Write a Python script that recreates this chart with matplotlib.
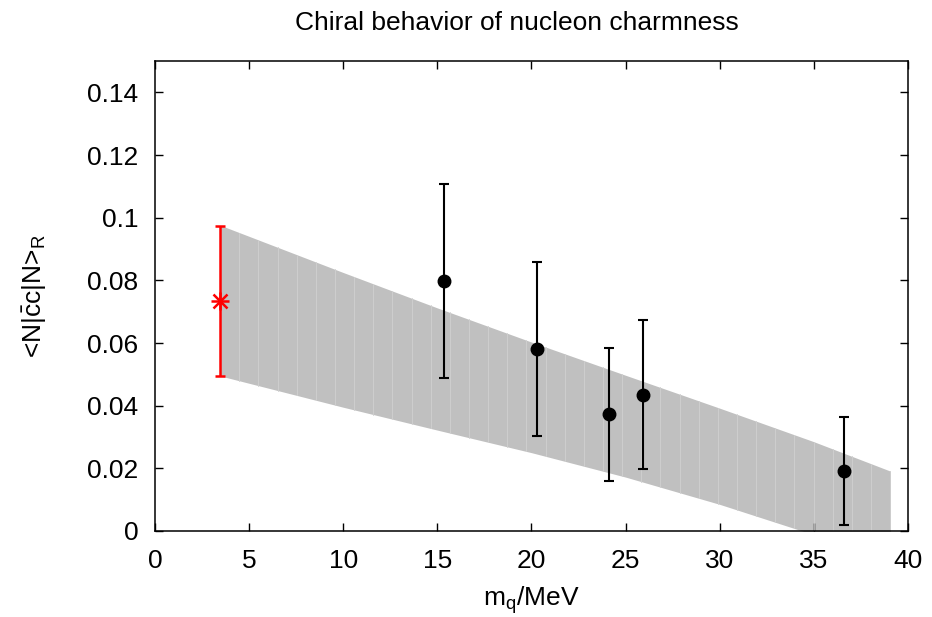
import numpy as np
import matplotlib
matplotlib.use("Agg")
import matplotlib.pyplot as plt

plt.rcParams['font.family'] = ['Liberation Sans', 'DejaVu Sans']
plt.rcParams['mathtext.fontset'] = 'custom'
plt.rcParams['mathtext.rm'] = 'Liberation Sans'
plt.rcParams['mathtext.it'] = 'Liberation Sans:italic'

# lattice points
mq = [15.34, 20.3, 24.1, 25.9, 36.6]
val = [0.0797, 0.0582, 0.0373, 0.0435, 0.0191]
err = [0.031, 0.0278, 0.0212, 0.0238, 0.0173]

# chiral extrapolation
mq_phys = [3.46]
val_phys = [0.0735]
err_phys = [0.024]

# fit band
band_x = [3.46, 10, 15, 20, 25, 30, 35, 39.07]
band_hi = [0.0976, 0.0825, 0.0712, 0.0603, 0.0497, 0.0392, 0.0285, 0.0191]
band_lo = [0.0495, 0.0395, 0.0322, 0.0250, 0.0172, 0.0085, -0.0012, -0.0085]

fig = plt.figure(figsize=(9.32, 6.17), dpi=100)
ax = fig.add_axes([0.1663, 0.1394, 0.9742 - 0.1663, 0.9011 - 0.1394])

ax.fill_between(band_x, band_lo, band_hi, color='#c0c0c0', lw=0, zorder=1)
# faint seams like gnuplot's filledcurves
for xs in np.arange(band_x[0] + 1.017, band_x[-1], 1.017):
    ax.plot([xs, xs], [np.interp(xs, band_x, band_lo), np.interp(xs, band_x, band_hi)],
            color='#d0d0d0', lw=0.6, zorder=2)

ax.errorbar(mq, val, yerr=err, fmt='o', color='black', ms=9, elinewidth=1.5,
            capsize=3.5, capthick=1.5, zorder=3)
ax.errorbar(mq_phys, val_phys, yerr=err_phys, fmt='none', ecolor='red', elinewidth=1.8,
            capsize=3.5, capthick=1.8, zorder=3)
ax.plot(mq_phys, val_phys, '+', color='red', ms=13, mew=1.8, zorder=4)
ax.plot(mq_phys, val_phys, 'x', color='red', ms=10, mew=1.8, zorder=4)

ax.set_xlim(0, 40)
ax.set_ylim(0, 0.15)
ax.set_xticks(range(0, 41, 5))
ax.set_yticks([0, 0.02, 0.04, 0.06, 0.08, 0.1, 0.12, 0.14])
ax.set_yticklabels(['0', '0.02', '0.04', '0.06', '0.08', '0.1', '0.12', '0.14'])
ax.tick_params(direction='in', length=6, width=1, top=True, right=True, labelsize=19)
ax.tick_params(axis='x', pad=13)
ax.tick_params(axis='y', pad=12)
for s in ax.spines.values():
    s.set_linewidth(1.1)

ax.set_title('Chiral behavior of nucleon charmness', fontsize=19, pad=22, x=0.48)
ax.set_xlabel('m$_\\mathrm{q}$/MeV', fontsize=19, labelpad=8)
ax.set_ylabel('<N|$\\bar{\\mathrm{c}}$c|N>$_\\mathrm{R}$', fontsize=19, labelpad=28)

fig.savefig('out.png', dpi=100)
